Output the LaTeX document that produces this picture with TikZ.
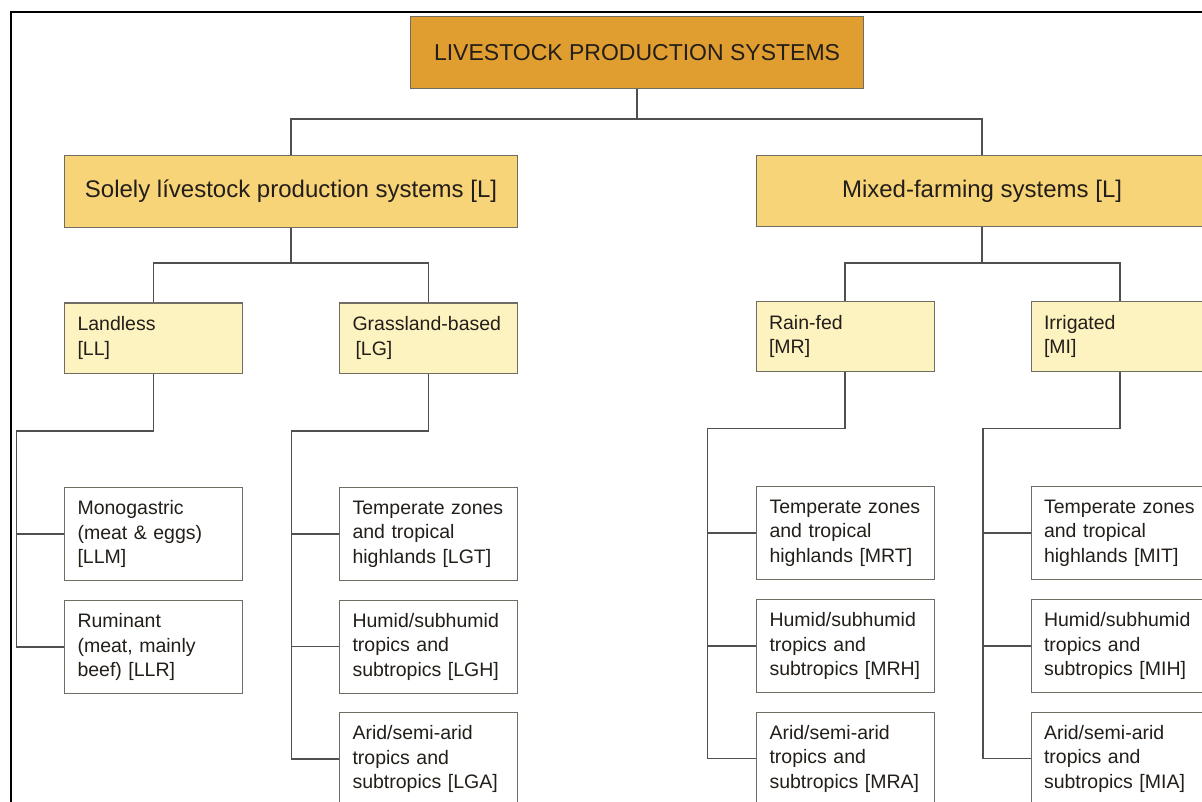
\documentclass[tikz,border=0pt]{standalone}
\usepackage{fontspec}
\setmainfont{Liberation Sans}
\definecolor{inkc}{RGB}{35,30,25}
\definecolor{topfill}{RGB}{224,158,48}
\definecolor{midfill}{RGB}{247,212,120}
\definecolor{lowfill}{RGB}{252,243,192}
\definecolor{boxline}{RGB}{112,108,100}
\definecolor{wire}{RGB}{80,80,80}
\tikzset{
  box/.style={draw=boxline, line width=1.1pt, text=inkc, inner sep=0pt},
  topbox/.style={box, fill=topfill, minimum width=453pt, minimum height=72pt,
    font=\fontsize{23}{27}\selectfont},
  sysbox/.style={box, fill=midfill, minimum width=453pt, minimum height=72pt,
    font=\fontsize{24}{28}\selectfont},
  typebox/.style={box, fill=lowfill, text width=152pt, inner xsep=13pt,
    minimum height=70pt, align=left, font=\fontsize{19.5}{24.5}\selectfont},
  leafbox/.style={box, fill=white, text width=152pt, inner xsep=13pt,
    minimum height=93pt, align=left, font=\fontsize{19.5}{24.5}\selectfont},
  wire/.style={draw=wire, line width=1.2pt},
}
\begin{document}
\begin{tikzpicture}[x=1pt, y=-1pt]
\useasboundingbox (0,0) rectangle (1202,802);
\fill[white] (0,0) rectangle (1202,802);
\begin{scope}
\clip (0,0) rectangle (1202,802);

% outer frame (top and left edges)
\draw[black, line width=1.6pt] (11,802) -- (11,12) -- (1202,12);

% level 1
\node[topbox, anchor=north west] (top) at (410,16) {LIVESTOCK PRODUCTION SYSTEMS};

% level 2
\node[sysbox, anchor=north west] (L) at (64,155) {Solely lívestock production systems [L]};
\node[sysbox, anchor=north west, minimum width=452pt, minimum height=71pt] (M) at (755.5,155) {Mixed-farming systems [L]};

% level 3
\node[typebox, anchor=north west] (LL) at (64,302.5) {Landless\\{[LL]}};
\node[typebox, anchor=north west] (LG) at (339,302.5) {Grassland-based\\\hspace*{3pt}{[LG]}};
\node[typebox, anchor=north west] (MR) at (755.5,301) {Rain-fed\\{[MR]}};
\node[typebox, anchor=north west] (MI) at (1030.5,301) {Irrigated\\{[MI]}};

% leaves: landless
\node[leafbox, anchor=north west] (LLM) at (64,487) {Monogastric\\(meat \& eggs)\\{[LLM]}};
\node[leafbox, anchor=north west] (LLR) at (64,600) {Ruminant\\(meat, mainly\\beef) [LLR]};

% leaves: grassland-based
\node[leafbox, anchor=north west] (LGT) at (339,487) {Temperate zones\\and tropical\\highlands [LGT]};
\node[leafbox, anchor=north west] (LGH) at (339,599.5) {Humid/subhumid\\tropics and\\subtropics [LGH]};
\node[leafbox, anchor=north west] (LGA) at (339,712) {Arid/semi-arid\\tropics and\\subtropics [LGA]};

% leaves: rain-fed
\node[leafbox, anchor=north west] (MRT) at (756,486) {Temperate zones\\and tropical\\highlands [MRT]};
\node[leafbox, anchor=north west] (MRH) at (756,599) {Humid/subhumid\\tropics and\\subtropics [MRH]};
\node[leafbox, anchor=north west] (MRA) at (756,711.5) {Arid/semi-arid\\tropics and\\subtropics [MRA]};

% leaves: irrigated
\node[leafbox, anchor=north west] (MIT) at (1030.5,486) {Temperate zones\\and tropical\\highlands [MIT]};
\node[leafbox, anchor=north west] (MIH) at (1030.5,599) {Humid/subhumid\\tropics and\\subtropics [MIH]};
\node[leafbox, anchor=north west] (MIA) at (1030.5,711.5) {Arid/semi-arid\\tropics and\\subtropics [MIA]};

% bus lines
\coordinate (busTop) at (top.south |- 0,119);
\coordinate (busL) at (L.south |- 0,263);
\coordinate (busM) at (M.south |- 0,263);
\coordinate (railLL) at (16.5,431);
\coordinate (railLG) at (291.5,431);
\coordinate (railMR) at (707.5,428.5);
\coordinate (railMI) at (983,428.5);

% level 1 -> level 2
\draw[wire] (top.south) -- (busTop);
\draw[wire] (busTop) -| (L.north);
\draw[wire] (busTop) -| (M.north);

% level 2 -> level 3
\draw[wire] (L.south) -- (busL);
\draw[wire] (busL) -| (LL.north);
\draw[wire] (busL) -| (LG.north);
\draw[wire] (M.south) -- (busM);
\draw[wire] (busM) -| (MR.north);
\draw[wire] (busM) -| (MI.north);

% level 3 -> leaves
\draw[wire] (LL.south) |- (railLL) |- (LLR.west);
\draw[wire] (railLL |- LLM.west) -- (LLM.west);

\draw[wire] (LG.south) |- (railLG) |- (LGA.west);
\draw[wire] (railLG |- LGT.west) -- (LGT.west);
\draw[wire] (railLG |- LGH.west) -- (LGH.west);

\draw[wire] (MR.south) |- (railMR) |- (MRA.west);
\draw[wire] (railMR |- MRT.west) -- (MRT.west);
\draw[wire] (railMR |- MRH.west) -- (MRH.west);

\draw[wire] (MI.south) |- (railMI) |- (MIA.west);
\draw[wire] (railMI |- MIT.west) -- (MIT.west);
\draw[wire] (railMI |- MIH.west) -- (MIH.west);
\end{scope}
\end{tikzpicture}
\end{document}
